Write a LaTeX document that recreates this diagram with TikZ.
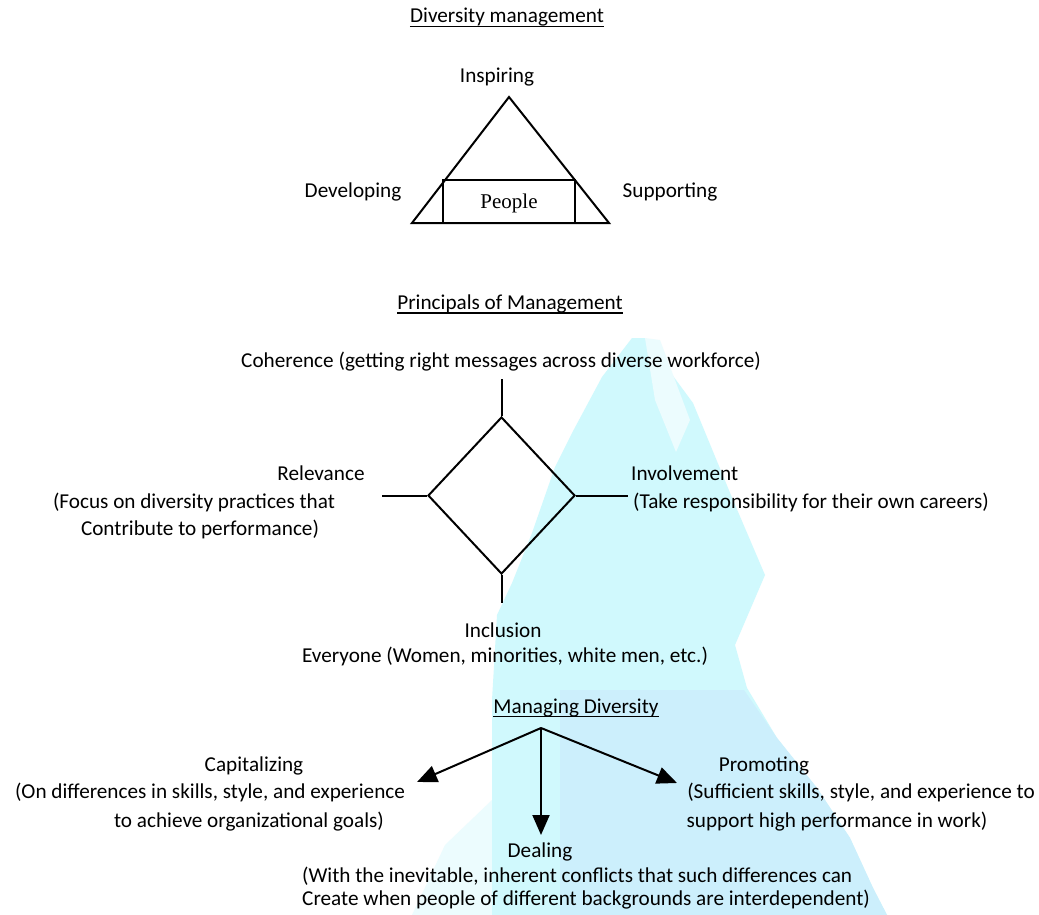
\documentclass[tikz,border=0pt]{standalone}
\usepackage{fontspec}
\setmainfont{Carlito}
\newfontfamily\serifpeople{Liberation Serif}
\usetikzlibrary{positioning}
\usetikzlibrary{shapes.geometric,arrows.meta}
\definecolor{washcyan}{RGB}{208,249,253}
\definecolor{washblue}{RGB}{204,239,252}
\definecolor{washpale}{RGB}{236,252,254}

\begin{document}
\begin{tikzpicture}[x=1pt,y=-1pt,
  every node/.style={font=\fontsize{21.2}{25}\selectfont},
  txt/.style={inner sep=0pt,anchor=base},
  txtw/.style={inner sep=0pt,anchor=base west},
  uline/.style={line width=1.4pt},
  edge/.style={line width=2pt},
  arr/.style={line width=2pt,-{Triangle[length=20pt,width=17pt]}}]
 \fill[white] (0,0) rectangle (1039,915);
 \useasboundingbox (0,0) rectangle (1039,915);
 % watermark behind the lower part
 \fill[washpale] (412,915)--(445,845)--(492,800)--(492,915)--cycle;
 \fill[washcyan] (632,338)--(645,338)--(693,403)--(733,500)--(765,575)--(735,645)--(747,688)--(777,738)--(817,788)--(850,838)--(873,888)--(887,915)--(492,915)--(492,700)--(497,615)--(512,583)--(532,533)--(555,467)--(572,433)--(602,377)--cycle;
 \fill[washblue] (560,690)--(744,690)--(777,738)--(817,788)--(850,838)--(873,888)--(887,915)--(560,915)--cycle;
 \fill[washpale] (645,338)--(660,340)--(690,420)--(676,452)--(655,400)--cycle;

 % diversity management
 \node[txt] (divtitle) at (507,23) {Diversity management};
 \draw[uline] ([yshift=-3.5pt]divtitle.base west)--([yshift=-3.5pt]divtitle.base east);
 \node[txt] (inspiring) at (497,83) {Inspiring};
 \node[txt] (developing) at (353,197) {Developing};
 \node[txt] (supporting) at (670,197) {Supporting};
 \draw[edge] (509,97)--(609,223)--(412,223)--cycle;
 \node[draw,edge,minimum width=132pt,minimum height=43pt,text depth=0pt,font=\serifpeople\fontsize{21}{25}\selectfont] (people) at (509,201.5) {People};

 % principals of management
 \node[txt] (printitle) at (510,309.5) {Principals of Management};
 \draw[uline] ([yshift=-3.5pt]printitle.base west)--([yshift=-3.5pt]printitle.base east);
 \node[txt] (coherence) at (501,367) {Coherence (getting right messages across diverse workforce)};
 \node[draw,edge,shape=diamond,minimum width=147pt,minimum height=157pt,inner sep=0pt] (core) at (501.5,495.5) {};
 \coordinate (cohend) at (501.5,379);
 \coordinate (relend) at (382,495.5);
 \coordinate (invend) at (628,495.5);
 \coordinate (inclend) at (501.5,603);
 \draw[edge] (core.north)--(cohend);
 \draw[edge] (core.west)--(relend);
 \draw[edge] (core.east)--(invend);
 \draw[edge] (core.south)--(inclend);
 \node[txt] (relevance) at (321,480) {Relevance};
 \node[txt] (relevanceA) at (194,508) {(Focus on diversity practices that};
 \node[txt] (relevanceB) at (200,535) {Contribute to performance)};
 \node[txtw] (involvement) at (631,480) {Involvement};
 \node[txtw] (involvementA) at (633,508) {(Take responsibility for their own careers)};
 \node[txt] (inclusion) at (503,637) {Inclusion};
 \node[txt] (inclusionA) at (505,662) {Everyone (Women, minorities, white men, etc.)};

 % managing diversity
 \node[txt] (mantitle) at (576,713) {Managing Diversity};
 \draw[uline] ([yshift=-3.5pt]mantitle.base west)--([yshift=-3.5pt]mantitle.base east);
 \coordinate (hub) at (541,728);
 \coordinate (captip) at (417,782);
 \coordinate (dealtip) at (541,835);
 \coordinate (protip) at (677,783);
 \draw[arr] (hub)--(captip);
 \draw[arr] (hub)--(dealtip);
 \draw[arr] (hub)--(protip);
 \node[txt] (capital) at (254,771) {Capitalizing};
 \node[txt] (capitalA) at (210,798) {(On differences in skills, style, and experience};
 \node[txt] (capitalB) at (249,827) {to achieve organizational goals)};
 \node[txt] (promote) at (764,771) {Promoting};
 \node[txt] (promoteA) at (861,798) {(Sufficient skills, style, and experience to};
 \node[txt] (promoteB) at (837,827) {support high performance in work)};
 \node[txt] (deal) at (540,857) {Dealing};
 \node[txtw] (dealA) at (302,882) {(With the inevitable, inherent conflicts that such differences can};
 \node[txtw] (dealB) at (302,905) {Create when people of different backgrounds are interdependent)};
\end{tikzpicture}
\end{document}
